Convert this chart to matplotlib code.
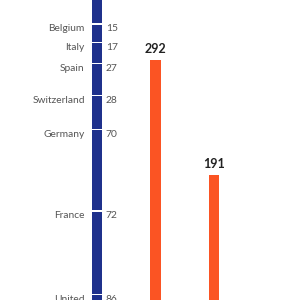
import numpy as np
import matplotlib.pyplot as plt

# stacked column (bottom to top) and the two orange columns
countries = ['United Kingdom', 'France', 'Germany', 'Switzerland', 'Spain', 'Italy', 'Belgium', 'Other']
country_vals = [86, 72, 70, 28, 27, 17, 15, 40]
country_labels = ['United', 'France', 'Germany', 'Switzerland', 'Spain', 'Italy', 'Belgium', '']
totals = [292, 191]

blue = '#1f318c'
orange = '#fb5423'
grey = '#555555'

plt.rcParams['font.family'] = ['Lato', 'DejaVu Sans']

fig = plt.figure(figsize=(3, 3), dpi=100)
ax = fig.add_axes([0, 0, 1, 1])

w = 0.18
gap = 1.25  # white gap between stacked segments
vals = np.array(country_vals)
bottoms = np.concatenate([[0], np.cumsum(vals)[:-1]]) + np.arange(len(vals)) * gap
tops = bottoms + vals
ax.bar(0, vals, width=w, bottom=bottoms, color=blue, linewidth=0)

for t, lab, v in zip(tops, country_labels, country_vals):
    if lab == '':
        continue
    ax.annotate(lab, (-w / 2, t + gap), xytext=(-5, -4), textcoords='offset points',
                ha='right', va='center', fontsize=7.4, color=grey)
    ax.annotate(str(v), (w / 2, t + gap), xytext=(2.5, -4), textcoords='offset points',
                ha='left', va='center', fontsize=7.4, color=grey)

xs = np.arange(1, len(totals) + 1)
ax.bar(xs, totals, width=w, color=orange, linewidth=0)
for x, v in zip(xs, totals):
    ax.annotate(str(v), (x, v), xytext=(0, 3.5), textcoords='offset points',
                ha='center', va='bottom', fontsize=9, fontweight='bold', color='#222222')

ax.set_xlim(-1.658, 3.47)
ax.set_ylim(82, 344)
ax.axis('off')

fig.savefig('out.png', dpi=100)
